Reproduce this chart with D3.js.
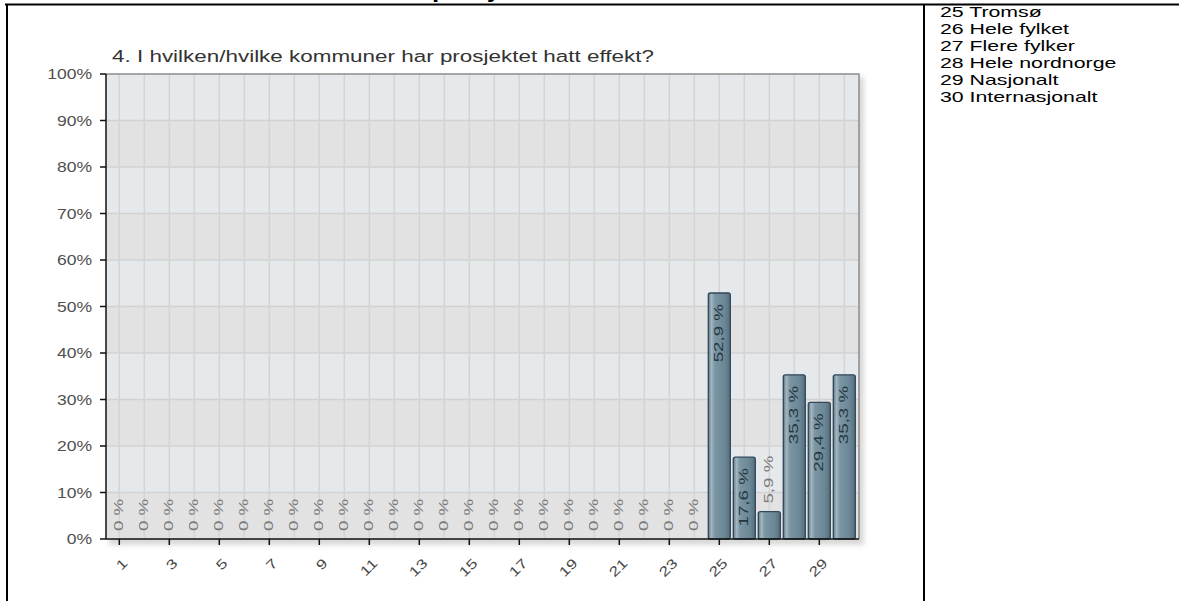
<!DOCTYPE html>
<html>
<head>
<meta charset="utf-8">
<script src="https://cdn.jsdelivr.net/npm/d3@7"></script>
<style>
  html, body { margin: 0; padding: 0; background: #fff; }
  svg { display: block; font-family: "Liberation Sans", Arial, sans-serif; }
</style>
</head>
<body>
<svg id="chart" width="1179" height="601"></svg>
<script>
// ---- data ----
const categories = ["1","2","3","4","5","6","7","8","9","10","11","12","13","14","15",
                    "16","17","18","19","20","21","22","23","24","25","26","27","28","29","30"];
const values = [0,0,0,0,0,0,0,0,0,0,0,0,0,0,0,0,0,0,0,0,0,0,0,0,52.9,17.6,5.9,35.3,29.4,35.3];
const valueLabels = ["0 %","0 %","0 %","0 %","0 %","0 %","0 %","0 %","0 %","0 %","0 %","0 %",
                     "0 %","0 %","0 %","0 %","0 %","0 %","0 %","0 %","0 %","0 %","0 %","0 %",
                     "52,9 %","17,6 %","5,9 %","35,3 %","29,4 %","35,3 %"];
const yTicks = [0,10,20,30,40,50,60,70,80,90,100];
const yTickLabels = ["0%","10%","20%","30%","40%","50%","60%","70%","80%","90%","100%"];
const xTickLabels = ["1","3","5","7","9","11","13","15","17","19","21","23","25","27","29"];
const chartTitle = "4. I hvilken/hvilke kommuner har prosjektet hatt effekt?";
const legendItems = ["25 Tromsø","26 Hele fylket","27 Flere fylker","28 Hele nordnorge","29 Nasjonalt","30 Internasjonalt"];
const clippedHeading = "prosjektet";

// ---- layout ----
const svg = d3.select("#chart");
const plot = {left: 106, right: 859, top: 74, bottom: 539};
const x = d3.scaleBand().domain(categories).range([106.8, 856.8]).paddingInner(0.12).paddingOuter(0.06);
const y = d3.scaleLinear().domain([0, 100]).range([plot.bottom, plot.top]);
const cx = d => x(d) + x.bandwidth() / 2;

const defs = svg.append("defs");
const grad = defs.append("linearGradient").attr("id", "barGrad").attr("x1", "0").attr("x2", "1").attr("y1", "0").attr("y2", "0");
[["0%", "#5c7786"], ["14%", "#a3b6c0"], ["30%", "#7a95a3"], ["75%", "#6b8795"], ["100%", "#546e7c"]]
  .forEach(([o, c]) => grad.append("stop").attr("offset", o).attr("stop-color", c));
const blur = defs.append("filter").attr("id", "shadow").attr("x", "-5%").attr("y", "-5%").attr("width", "110%").attr("height", "110%");
blur.append("feGaussianBlur").attr("stdDeviation", 2.5);

// page table borders
svg.append("line").attr("x1", 5).attr("x2", 1179).attr("y1", 4.5).attr("y2", 4.5).attr("stroke", "#000").attr("stroke-width", 2);
svg.append("line").attr("x1", 7).attr("x2", 7).attr("y1", 4).attr("y2", 601).attr("stroke", "#000").attr("stroke-width", 2);
svg.append("line").attr("x1", 924).attr("x2", 924).attr("y1", 4).attr("y2", 601).attr("stroke", "#000").attr("stroke-width", 2);

// clipped heading above table (only its descenders show)
svg.append("text").attr("transform", "translate(432,-2) scale(1.45,1)")
  .attr("font-size", 18).attr("font-weight", "bold").attr("fill", "#000").text(clippedHeading);

// legend text on right
svg.append("g").selectAll("text").data(legendItems).join("text")
  .attr("transform", (d, i) => `translate(940,${17 + i * 17}) scale(1.42,1)`)
  .attr("font-size", 15).attr("fill", "#000").text(d => d);

// plot shadow
svg.append("rect").attr("x", plot.left + 3).attr("y", plot.top + 3)
  .attr("width", plot.right - plot.left + 2).attr("height", plot.bottom - plot.top + 3)
  .attr("fill", "#d8d8d8").attr("filter", "url(#shadow)");

// alternating bands
const bands = d3.pairs(yTicks);
svg.append("g").selectAll("rect").data(bands).join("rect")
  .attr("x", plot.left).attr("width", plot.right - plot.left)
  .attr("y", d => y(d[1])).attr("height", d => y(d[0]) - y(d[1]))
  .attr("fill", (d, i) => i % 2 === 0 ? "#e2e2e3" : "#e5e9ec");

// grid lines
svg.append("g").selectAll("line").data(yTicks.slice(1, -1)).join("line")
  .attr("x1", plot.left).attr("x2", plot.right).attr("y1", d => y(d)).attr("y2", d => y(d))
  .attr("stroke", "#d2d2d2").attr("stroke-width", 1.5);
svg.append("g").selectAll("line").data(categories).join("line")
  .attr("x1", d => cx(d)).attr("x2", d => cx(d)).attr("y1", plot.top).attr("y2", plot.bottom)
  .attr("stroke", "#d4d4d4").attr("stroke-width", 1.5);

// frame top/right
svg.append("path").attr("d", `M${plot.left},${plot.top}H${plot.right}V${plot.bottom}`)
  .attr("fill", "none").attr("stroke", "#8c8c8c").attr("stroke-width", 1.5);

// bars
const data = categories.map((c, i) => ({c, v: values[i], label: valueLabels[i]}));
svg.append("g").selectAll("rect").data(data.filter(d => d.v > 0)).join("rect")
  .attr("x", d => x(d.c)).attr("width", x.bandwidth())
  .attr("y", d => y(d.v)).attr("height", d => y(0) - y(d.v))
  .attr("rx", 2).attr("fill", "url(#barGrad)").attr("stroke", "#32475a").attr("stroke-width", 1.3);

// bar labels
svg.append("g").selectAll("text").data(data).join("text")
  .attr("transform", d => {
    const inside = d.v >= 10;
    const yy = inside ? y(d.v) + 11 : y(d.v) - 8;
    return `translate(${cx(d.c) - 0.5},${yy}) rotate(-90) scale(1.5,1)`;
  })
  .attr("text-anchor", d => d.v >= 10 ? "end" : "start")
  .attr("dy", "0.36em")
  .attr("font-size", 12.5)
  .attr("fill", d => d.v >= 10 ? "#26363f" : "#7a7a7a")
  .text(d => d.label);

// y axis
const yAxisG = svg.append("g");
yAxisG.append("line").attr("x1", plot.left).attr("x2", plot.left).attr("y1", plot.top).attr("y2", plot.bottom)
  .attr("stroke", "#111").attr("stroke-width", 1.5);
yAxisG.selectAll("line.tick").data(yTicks).join("line").attr("class", "tick")
  .attr("x1", plot.left - 6).attr("x2", plot.left).attr("y1", d => y(d)).attr("y2", d => y(d))
  .attr("stroke", "#111").attr("stroke-width", 1.5);
yAxisG.selectAll("text").data(yTicks).join("text")
  .attr("transform", d => `translate(92,${y(d)}) scale(1.17,1)`)
  .attr("text-anchor", "end").attr("dy", "0.36em")
  .attr("font-size", 15).attr("fill", "#505050").text((d, i) => yTickLabels[i]);

// x axis
const xAxisG = svg.append("g");
xAxisG.append("line").attr("x1", plot.left).attr("x2", plot.right).attr("y1", plot.bottom).attr("y2", plot.bottom)
  .attr("stroke", "#111").attr("stroke-width", 1.5);
xAxisG.selectAll("line.tick").data(xTickLabels).join("line").attr("class", "tick")
  .attr("x1", d => cx(d)).attr("x2", d => cx(d)).attr("y1", plot.bottom).attr("y2", plot.bottom + 6)
  .attr("stroke", "#111").attr("stroke-width", 1.5);
xAxisG.selectAll("text").data(xTickLabels).join("text")
  .attr("transform", d => `translate(${cx(d) + 9},${plot.bottom + 25}) rotate(-45) scale(1.3,1)`)
  .attr("text-anchor", "end")
  .attr("font-size", 13.5).attr("fill", "#4a4a4a").text(d => d);

// chart title
svg.append("text").attr("transform", "translate(112,62) scale(1.36,1)")
  .attr("font-size", 16.5).attr("fill", "#333").text(chartTitle);
</script>
</body>
</html>
